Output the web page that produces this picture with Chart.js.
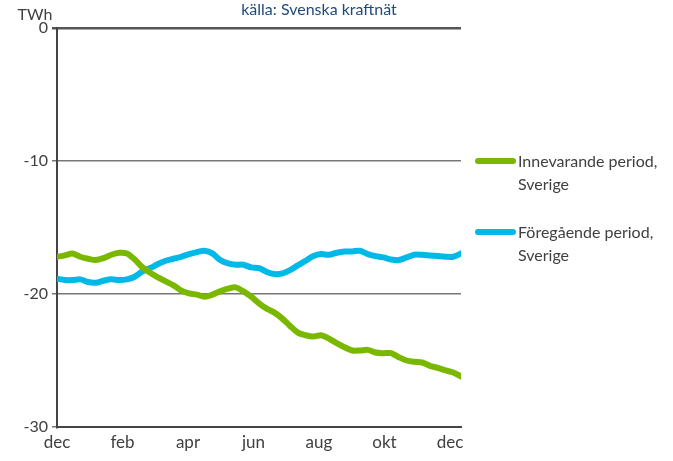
<!DOCTYPE html>
<html>
<head>
<meta charset="utf-8">
<script src="https://cdn.jsdelivr.net/npm/chart.js@4"></script>
<style>
  html, body { margin: 0; padding: 0; background: #fff; }
  #wrap { width: 673px; height: 461px; }
</style>
</head>
<body>
<div id="wrap"><canvas id="magasinChart" width="673" height="461"></canvas></div>
<script>
// Månadsetiketter på x-axeln
const monthLabels = ['dec', 'feb', 'apr', 'jun', 'aug', 'okt', 'dec'];
const yTicks = [0, -10, -20, -30];

// Veckovärden (TWh)
const innevarande = [
    -17.2, -17.1, -16.95, -17.2, -17.35, -17.45, -17.3, -17.05, -16.9, -16.95,
    -17.4, -18.0, -18.4, -18.75, -19.05, -19.35, -19.75, -19.95, -20.05, -20.2,
    -20.05, -19.8, -19.6, -19.5, -19.8, -20.2, -20.7, -21.1, -21.4, -21.85,
    -22.4, -22.9, -23.1, -23.2, -23.1, -23.35, -23.7, -24.0, -24.25, -24.25,
    -24.2, -24.4, -24.45, -24.45, -24.75, -25.0, -25.1, -25.15, -25.4, -25.55,
    -25.75, -25.9, -26.2
];
const foregaende = [
    -18.85, -18.95, -18.95, -18.9, -19.1, -19.15, -19.0, -18.9, -18.95, -18.9,
    -18.7, -18.3, -18.05, -17.75, -17.5, -17.35, -17.2, -17.0, -16.85, -16.75,
    -16.95, -17.45, -17.7, -17.8, -17.8, -18.0, -18.05, -18.35, -18.5, -18.45,
    -18.2, -17.85, -17.5, -17.15, -17.0, -17.05, -16.9, -16.8, -16.8, -16.75,
    -17.0, -17.15, -17.25, -17.4, -17.45, -17.25, -17.05, -17.05, -17.1, -17.15,
    -17.2, -17.2, -16.95
];

const weeksPerLabel = 8.43;
const FONT = 'Lato, "Open Sans", sans-serif';

function toPoints(arr) {
    return arr.map((v, i) => ({ x: i, y: v }));
}

// Egen förklaring till höger och texter ovanför diagrammet
const extrasPlugin = {
    id: 'extras',
    afterDraw(chart) {
        const c = chart.ctx;
        c.save();
        c.font = '16px ' + FONT;
        c.fillStyle = '#1f497d';
        c.textAlign = 'center';
        c.textBaseline = 'middle';
        c.fillText('källa: Svenska kraftnät', 319, 10);

        c.fillStyle = '#404040';
        c.fillText('TWh', 35, 15);

        const items = [
            { y: 161, ds: chart.data.datasets[0] },
            { y: 232, ds: chart.data.datasets[1] }
        ];
        c.textAlign = 'left';
        items.forEach(it => {
            c.strokeStyle = it.ds.borderColor;
            c.lineWidth = 6;
            c.lineCap = 'round';
            c.beginPath();
            c.moveTo(478, it.y);
            c.lineTo(513, it.y);
            c.stroke();
            c.fillStyle = '#404040';
            it.ds.label.split('\n').forEach((line, k) => {
                c.fillText(line, 518, it.y + 1 + k * 23);
            });
        });
        c.restore();
    }
};

const data = {
    datasets: [{
        label: 'Innevarande period,\nSverige',
        data: toPoints(innevarande),
        borderColor: '#7ab800',
        borderWidth: 6,
        pointRadius: 0,
        tension: 0.3,
        borderCapStyle: 'round'
    }, {
        label: 'Föregående period,\nSverige',
        data: toPoints(foregaende),
        borderColor: '#00b9e7',
        borderWidth: 6,
        pointRadius: 0,
        tension: 0.3,
        borderCapStyle: 'round'
    }]
};

const config = {
    type: 'line',
    data: data,
    options: {
        responsive: false,
        animation: false,
        layout: { padding: { top: 28, right: 212, bottom: 0, left: 0 } },
        scales: {
            x: {
                type: 'linear',
                min: 0,
                max: innevarande.length - 1,
                afterBuildTicks(scale) {
                    scale.ticks = monthLabels.map((_, i) => ({ value: i * weeksPerLabel }));
                },
                afterFit(scale) { scale.height = 34; },
                grid: { display: false, drawTicks: false },
                border: { display: true, color: '#444', width: 2 },
                ticks: {
                    autoSkip: false,
                    maxRotation: 0,
                    padding: 5,
                    color: '#404040',
                    font: { family: FONT, size: 17 },
                    callback: (v, i) => monthLabels[i]
                }
            },
            y: {
                min: -30,
                max: 0,
                afterBuildTicks(scale) {
                    scale.ticks = yTicks.map(v => ({ value: v }));
                },
                afterFit(scale) { scale.width = 57; },
                grid: {
                    color: ctx => ctx.tick && ctx.tick.value === 0 ? '#555' : '#777',
                    lineWidth: ctx => ctx.tick && ctx.tick.value === 0 ? 2.5 : 1.5,
                    tickLength: 5
                },
                border: { display: true, color: '#444', width: 2 },
                ticks: {
                    padding: 4,
                    color: '#404040',
                    font: { family: FONT, size: 16 }
                }
            }
        },
        plugins: {
            legend: { display: false },
            tooltip: { enabled: false }
        }
    },
    plugins: [extrasPlugin]
};

new Chart(document.getElementById('magasinChart').getContext('2d'), config);
</script>
</body>
</html>
